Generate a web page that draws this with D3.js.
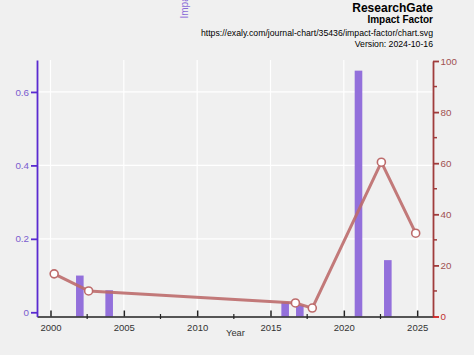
<!DOCTYPE html>
<html><head><meta charset="utf-8">
<script src="https://cdn.jsdelivr.net/npm/d3@7"></script>
<style>
html,body{margin:0;padding:0;background:#f0f0f0;}
svg{display:block;font-family:"Liberation Sans",Arial,sans-serif;}
</style></head>
<body>
<svg id="c" width="474" height="355"></svg>
<script>
const barYears = [2002, 2004, 2016, 2017, 2021, 2023];
const barValues = [0.10, 0.06, 0.028, 0.019, 0.658, 0.142];
const lineYears = [2000.25, 2002.6, 2016.7, 2017.85, 2022.56, 2024.9];
const lineValues = [16.7, 10.0, 5.3, 3.3, 60.4, 32.6];
const xTicks = [2000, 2005, 2010, 2015, 2020, 2025];
const leftTicks = [0, 0.2, 0.4, 0.6];
const rightTicks = [0, 20, 40, 60, 80, 100];
const titleLines = ["ResearchGate", "Impact Factor", "https://exaly.com/journal-chart/35436/impact-factor/chart.svg", "Version: 2024-10-16"];

const svg = d3.select("#c");
const L = 37, R = 433, T = 60, B = 316.5;
const x = d3.scaleLinear().domain([1999.08, 2026.08]).range([L, R]);
const yL = d3.scaleLinear().domain([-0.0115, 0.687]).range([B, T]);
const yR = d3.scaleLinear().domain([0, 100]).range([B, 61]);

svg.append("rect").attr("width", 474).attr("height", 355).attr("fill", "#f0f0f0");

// grid
const g = svg.append("g");
g.selectAll("line.vx").data(xTicks).join("line")
  .attr("x1", d => x(d)).attr("x2", d => x(d)).attr("y1", T).attr("y2", B)
  .attr("stroke", "#fff").attr("stroke-width", 1.2);
g.selectAll("line.hy").data(leftTicks.filter(d => d > 0)).join("line")
  .attr("x1", L).attr("x2", R).attr("y1", d => yL(d)).attr("y2", d => yL(d))
  .attr("stroke", "#fff").attr("stroke-width", 1.2);

// bars
const bw = 7.6;
svg.append("g").selectAll("rect").data(barYears).join("rect")
  .attr("x", (d) => x(d) - bw / 2)
  .attr("y", (d, i) => yL(barValues[i]))
  .attr("width", bw)
  .attr("height", (d, i) => B - yL(barValues[i]))
  .attr("fill", "#9370db");

// x axis
const xAxis = svg.append("g").attr("transform", `translate(0,${B})`)
  .call(d3.axisBottom(x).tickValues(xTicks).tickFormat(d3.format("d")).tickSizeInner(-6).tickSizeOuter(0).tickPadding(7.5));
xAxis.select(".domain").attr("stroke", "#222").attr("stroke-width", 1.5);
xAxis.selectAll(".tick line").attr("stroke", "#222").attr("stroke-width", 1.5);
xAxis.selectAll("text").attr("font-size", 9.5).attr("fill", "#333");
const minorX = d3.range(2002.5, 2026, 5);
svg.append("g").selectAll("line").data(minorX).join("line")
  .attr("x1", d => x(d)).attr("x2", d => x(d)).attr("y1", B - 2.5).attr("y2", B + 2.5)
  .attr("stroke", "#222").attr("stroke-width", 1.2);
svg.append("text").attr("x", 235.5).attr("y", 335.7).attr("text-anchor", "middle")
  .attr("font-size", 9.3).attr("fill", "#333").text("Year");

// left axis
const la = svg.append("g").attr("transform", `translate(${L},0)`)
  .call(d3.axisLeft(yL).tickValues(leftTicks).tickFormat(d => d === 0 ? "0" : d3.format(".1f")(d)).tickSizeInner(6).tickSizeOuter(0).tickPadding(2));
la.select(".domain").attr("stroke", "#5a2ad0").attr("stroke-width", 1.8);
la.selectAll(".tick line").attr("stroke", "#5a2ad0").attr("stroke-width", 1.8);
la.selectAll("text").attr("font-size", 9.8).attr("fill", "#7a5ccf");
svg.append("text").attr("transform", "translate(188,18.5) rotate(-90)")
  .attr("text-anchor", "start").attr("font-size", 10).attr("fill", "#8a6ad8").text("Impact Factor");

// right axis
const ra = svg.append("g").attr("transform", `translate(${R},0)`)
  .call(d3.axisRight(yR).tickValues(rightTicks).tickSizeInner(6).tickSizeOuter(0).tickPadding(1.5));
ra.select(".domain").attr("stroke", "#a03c3c").attr("stroke-width", 1.8);
ra.selectAll(".tick line").attr("stroke", d => d === 0 ? "#d02020" : "#a03c3c").attr("stroke-width", 1.8);
ra.selectAll("text").attr("font-size", 9.8).attr("fill", d => d === 0 ? "#c03030" : "#a05050");
svg.append("g").selectAll("line").data([10, 30, 50, 70, 90]).join("line")
  .attr("x1", R).attr("x2", R + 4).attr("y1", d => yR(d)).attr("y2", d => yR(d))
  .attr("stroke", "#a03c3c").attr("stroke-width", 1.5);

// line
const pts = lineYears.map((d, i) => [x(d), yR(lineValues[i])]);
svg.append("path").attr("d", d3.line()(pts)).attr("fill", "none")
  .attr("stroke", "#bd6b6b").attr("stroke-width", 3).attr("stroke-opacity", 0.9).attr("stroke-linejoin", "round");
svg.append("g").selectAll("circle").data(pts).join("circle")
  .attr("cx", d => d[0]).attr("cy", d => d[1]).attr("r", 4)
  .attr("fill", "#fff").attr("stroke", "#bd6b6b").attr("stroke-width", 1.6);

// title block
const tb = svg.append("g").attr("text-anchor", "end");
tb.append("text").attr("x", 433).attr("y", 12).attr("font-size", 12).attr("font-weight", "bold").attr("fill", "#000").text(titleLines[0]);
tb.append("text").attr("x", 433).attr("y", 23.3).attr("font-size", 10).attr("font-weight", "bold").attr("fill", "#000").text(titleLines[1]);
tb.append("text").attr("x", 433).attr("y", 36).attr("font-size", 8.7).attr("fill", "#000").text(titleLines[2]);
tb.append("text").attr("x", 433).attr("y", 47).attr("font-size", 8.7).attr("fill", "#000").text(titleLines[3]);
</script>
</body></html>
